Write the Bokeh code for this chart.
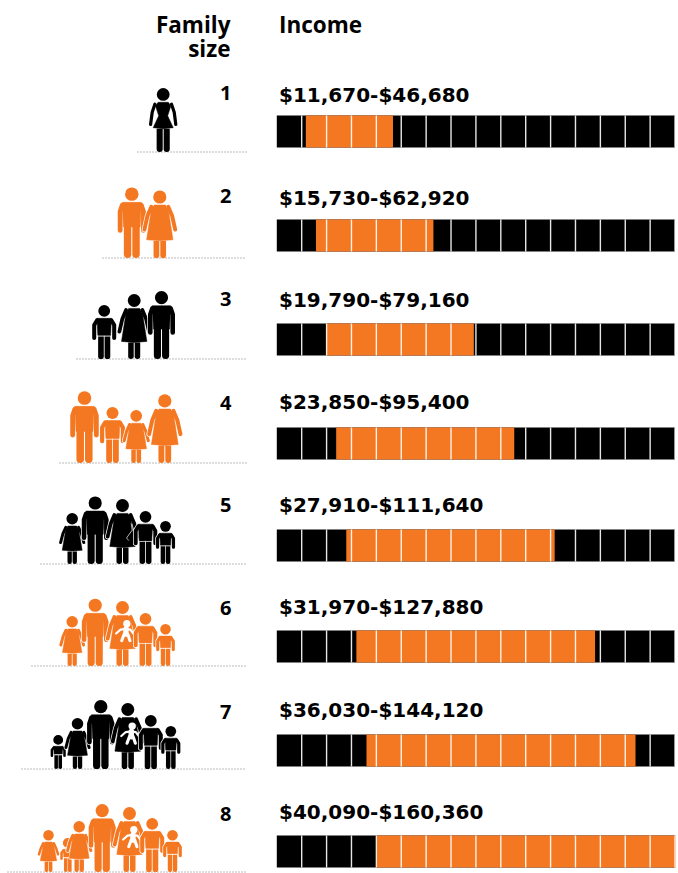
from bokeh.core.properties import value
from bokeh.embed import file_html
from bokeh.models import LinearScale, Range1d
from bokeh.plotting import figure
from bokeh.resources import INLINE

# Income bands by family size
family_sizes = [1, 2, 3, 4, 5, 6, 7, 8]
income_low = [11670, 15730, 19790, 23850, 27910, 31970, 36030, 40090]
income_high = [46680, 62920, 79160, 95400, 111640, 127880, 144120, 160360]
block_size = 10000
block_count = 16

# Page layout, in pixels
BLACK = "#000000"
ORANGE = "#F47721"
FONT = value("Open Sans")
WIDTH, HEIGHT = 678, 873
BAR_ORIGIN = 276.3
PX_PER_DOLLAR = 24.89 / block_size
bar_tops = [115, 219, 323, 427, 529, 630, 734, 835]
BAR_HEIGHT = 32
label_baselines = [102.5, 205.3, 307.5, 409.5, 512.5, 614.5, 717.5, 819]
number_baselines = [100.7, 203.3, 306.7, 410, 512.3, 615.7, 719, 821.7]
ground_y = [151.5, 257.5, 358.5, 462.5, 563.5, 665.5, 768.5, 871.5]
ground_x0 = [137, 102, 76, 59, 40, 31, 21, 7]
GROUND_X1 = 246
TEXT_SHIFT = -8

# Pictogram roster per row: (kind, centre x, height)
families = [
    [("slim", 162.7, 64)],
    [("man", 131.3, 70.6), ("woman", 159.3, 67.6)],
    [("boy", 103.7, 54), ("woman", 133.7, 65), ("man", 161, 68)],
    [("man", 84, 71.7), ("boy", 112, 56), ("woman", 135.7, 53), ("woman", 164.3, 68.7)],
    [("woman", 71.7, 51), ("man", 94.7, 67.6), ("expecting", 122, 65),
     ("boy", 145, 53), ("boy", 165, 43)],
    [("woman", 71.7, 50), ("man", 94.7, 67.3), ("mother", 122, 65),
     ("boy", 145, 53), ("boy", 165, 42)],
    [("boy", 57.7, 34), ("woman", 77, 51), ("man", 100.3, 69), ("mother", 127.3, 66),
     ("boy", 150.3, 54), ("boy", 170.3, 43)],
    [("woman", 48, 42), ("boy", 67.3, 34), ("woman", 78.7, 51), ("man", 101.7, 68),
     ("mother", 129, 65), ("boy", 151.7, 54), ("boy", 172, 42)],
]

p = figure(
    width=WIDTH, height=HEIGHT, output_backend="svg", toolbar_location=None,
    x_range=Range1d(0, WIDTH), y_range=Range1d(HEIGHT, 0),
    min_border=0, outline_line_color=None, background_fill_color="white",
)
p.axis.visible = False
p.grid.visible = False
p.extra_x_ranges["income"] = Range1d(
    -BAR_ORIGIN / PX_PER_DOLLAR, (WIDTH - BAR_ORIGIN) / PX_PER_DOLLAR
)
p.extra_x_scales["income"] = LinearScale()

# Income bars: a black strip, the orange band, then white block separators
bar_bottoms = [t + BAR_HEIGHT for t in bar_tops]
p.quad(left=[0] * 8, right=[block_size * block_count] * 8, top=bar_tops, bottom=bar_bottoms,
       color=BLACK, line_color=None, x_range_name="income")
p.quad(left=income_low, right=income_high, top=bar_tops, bottom=bar_bottoms,
       color=ORANGE, line_color=None, x_range_name="income")
for top, bottom in zip(bar_tops, bar_bottoms):
    xs = [[block_size * k, block_size * k] for k in range(1, block_count + 1)]
    ys = [[top, bottom]] * block_count
    p.multi_line(xs, ys, line_color="white", line_width=1.4, line_alpha=0.9,
                 x_range_name="income")

# Dotted ground lines under each family
for y, x0 in zip(ground_y, ground_x0):
    p.line([x0, GROUND_X1], [y, y], line_color="#777777", line_width=1, line_dash="1 2")


def limbs(xs, ys, widths, color):
    p.multi_line(xs, ys, line_width=widths, line_color=color,
                 line_cap="round", line_join="round")


def draw_baby(cx, base, h):
    s = h / 66
    px = lambda dx: cx + dx * s
    py = lambda u: base - u * h
    white = "white"
    p.circle([px(4.4)], [py(0.65)], radius=3.7 * s, color=white, line_color=None)
    limbs([[px(3.6), px(3.4)]], [[py(0.57), py(0.49)]], [5.5 * s], white)
    limbs([[px(-6.5), px(-2), px(3.4)], [px(11), px(8), px(3.4)]],
          [[py(0.50), py(0.56), py(0.57)], [py(0.50), py(0.56), py(0.57)]], [2.2 * s] * 2, white)
    limbs([[px(1.6), px(-0.8)], [px(5.4), px(7.6)]],
          [[py(0.49), py(0.39)], [py(0.49), py(0.39)]], [3.1 * s] * 2, white)


def draw_person(kind, cx, base, h, color):
    r = 3.2 + 0.05 * h
    shoulder = 1 - (2 * r + 1.5) / h
    X = lambda u: cx + u * h
    Y = lambda u: base - u * h
    fig = shoulder / 0.79

    if kind in ("man", "boy"):
        hem = 0.44
        torso_x = [X(-0.135), X(0.135), X(0.118), X(-0.118)]
        torso_y = [Y(shoulder), Y(shoulder), Y(hem), Y(hem)]
        reach, leg_off, leg_w, arm_w = 0.165, 0.06, 0.105, 0.068
        if kind == "boy":
            reach, arm_w = 0.185, 0.075
        arm_end = 0.39
        arm_pts = [(0.135, shoulder - 0.04), (reach, shoulder - 0.13 * fig), (reach, arm_end)]
    else:
        hem = 0.38 if kind == "slim" else 0.27
        if kind == "slim":
            hw = 0.157
            torso_x = [X(-0.08), X(0.08), X(0.12), X(0.07), X(hw), X(0), X(-hw), X(-0.07), X(-0.12)]
            torso_y = [Y(shoulder), Y(shoulder), Y(0.72), Y(0.565), Y(hem), Y(hem - 0.015), Y(hem),
                       Y(0.565), Y(0.72)]
            arm_pts = [(0.13, shoulder - 0.03), (0.172, 0.62), (0.197, 0.43)]
            leg_off, leg_w, arm_w = 0.055, 0.095, 0.05
        else:
            hw = 0.195
            torso_x = [X(-0.085), X(0.085), X(0.13), X(hw), X(0), X(-hw), X(-0.13)]
            torso_y = [Y(shoulder), Y(shoulder), Y(shoulder - 0.09), Y(hem), Y(hem - 0.015), Y(hem),
                       Y(shoulder - 0.09)]
            arm_pts = [(0.125, shoulder - 0.025), (0.182, shoulder - 0.16 * fig), (0.228, 0.42)]
            leg_off, leg_w, arm_w = 0.05, 0.085, 0.058

    arm_r_x = [X(a) for a, _ in arm_pts]
    arm_l_x = [X(-a) for a, _ in arm_pts]
    arm_y = [Y(u) for _, u in arm_pts]
    leg_xs = [[X(-leg_off)] * 2, [X(leg_off)] * 2]
    leg_ys = [[Y(hem), Y(leg_w * 0.5)]] * 2

    # White halo keeps overlapping figures readable
    limbs([arm_l_x, arm_r_x], [arm_y, arm_y], [arm_w * h + 1.4] * 2, "white")
    p.patch(torso_x, torso_y, fill_color="white", line_color="white", line_width=1.4)

    limbs(leg_xs, leg_ys, [leg_w * h] * 2, color)
    limbs([arm_l_x, arm_r_x], [arm_y, arm_y], [arm_w * h] * 2, color)
    # Pale band at the hem or waist
    is_dress = kind not in ("man", "boy")
    band = [X(-0.19 if is_dress else -0.118), X(0.19 if is_dress else 0.118)]
    if kind != "man":
        p.line(band, [Y(hem) + 0.6] * 2, line_color="white", line_width=1.1)
    p.patch(torso_x, torso_y, fill_color=color, line_color=color, line_width=0.5, line_join="round")
    p.circle([cx], [Y(1) + r], radius=r, color=color, line_color=None)

    if kind == "mother":
        draw_baby(cx, base, h)
    if kind == "expecting":
        s = h / 65
        p.line([cx + 8.7 * s, cx + 9.7 * s, cx + 4 * s, cx + 6.3 * s],
               [Y(0.625), Y(0.52), Y(0.4), Y(0.36)], line_color="white", line_width=0.7,
               line_join="round")


for i, roster in enumerate(families):
    colour = ORANGE if family_sizes[i] % 2 == 0 else BLACK
    for kind, cx, h in roster:
        draw_person(kind, cx, ground_y[i], h, colour)

# Column headers
p.text([230, 230], [32.3, 56], text=["Family", "size"], text_font=FONT, text_font_style="bold",
       text_font_size="22.5px", text_align="right", text_baseline="alphabetic", text_color=BLACK,
       y_offset=TEXT_SHIFT)
p.text([278.5], [32.3], text=["Income"], text_font=FONT, text_font_style="bold",
       text_font_size="22.5px", text_align="left", text_baseline="alphabetic", text_color=BLACK,
       y_offset=TEXT_SHIFT)

# Family size numbers and income labels
p.text([231] * 8, number_baselines, text=[str(n) for n in family_sizes], text_font=FONT,
       text_font_style="bold", text_font_size="20px", text_align="right",
       text_baseline="alphabetic", text_color=BLACK, y_offset=TEXT_SHIFT)
income_labels = [f"${lo:,}-${hi:,}" for lo, hi in zip(income_low, income_high)]
p.text([278.5] * 8, label_baselines, text=income_labels, text_font=value("DejaVu Sans"),
       text_font_style="bold", text_font_size="20px", text_align="left",
       text_baseline="alphabetic", text_color=BLACK, y_offset=TEXT_SHIFT)

open("out.html", "w").write(file_html(p, INLINE))
